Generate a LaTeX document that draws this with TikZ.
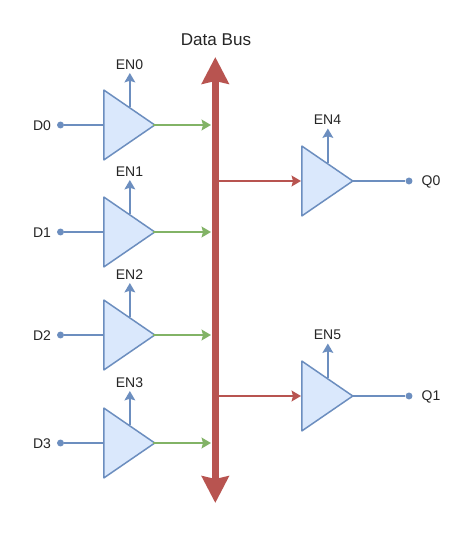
\documentclass[tikz,border=0pt]{standalone}
\usepackage{fontspec}
\setmainfont{Liberation Sans}
\usetikzlibrary{arrows.meta,shapes.geometric}
\definecolor{bluel}{HTML}{6C8EBF}
\definecolor{bluef}{HTML}{DAE8FC}
\definecolor{greenl}{HTML}{82B366}
\definecolor{redl}{HTML}{B85450}
\tikzset{
  buf/.style={isosceles triangle,isosceles triangle stretches,draw=bluel,fill=bluef,line width=1.5pt*0.75,
    minimum width=70*0.75pt,minimum height=51*0.75pt,inner sep=0pt,anchor=lower side,shape border rotate=0,miter limit=2},
  pin/.style={circle,fill=bluel,inner sep=0pt,minimum size=5.2pt},
  lbl/.style={inner sep=0pt,font=\fontsize{10.5pt}{12pt}\selectfont,text=black!85},
  titlelbl/.style={inner sep=0pt,font=\fontsize{12.8pt}{14pt}\selectfont,text=black!85},
  wireb/.style={draw=bluel,line width=1.5pt},
  enarr/.style={draw=bluel,line width=1.5pt,-{Stealth[inset=1.2pt,length=7pt,width=8pt]}},
  grn/.style={draw=greenl,line width=1.5pt,-{Stealth[inset=1pt,length=7pt,width=8pt]},shorten <=-2.5pt},
  redarr/.style={draw=redl,line width=1.5pt,-{Stealth[inset=1pt,length=7pt,width=8pt]}},
  busline/.style={draw=redl,line width=5.3pt,{Stealth[inset=2pt,length=20pt,width=20pt]}-{Stealth[inset=2pt,length=20pt,width=20pt]}},
}
\begin{document}
\begin{tikzpicture}[x=0.75pt,y=-0.75pt]
\useasboundingbox (0,0) rectangle (474,541);
\fill[white] (0,0) rectangle (474,541);
% bus
\coordinate (busT) at (215.3,57);
\coordinate (busB) at (215.3,503);
\draw[busline] (busT) -- (busB);
\node[titlelbl] (title) at (216,39.5) {Data Bus};
% inputs
\foreach \i/\y/\ty in {0/125/65,1/232/172,2/335/275,3/443/383}{
  \node[buf] (b\i) at (103,\y) {};
  \node[pin] (d\i) at (60.5,\y) {};
  \node[lbl] (dl\i) at (42,\y+0.5) {D\i};
  \node[lbl] (en\i) at (129.5,\ty) {EN\i};
  \coordinate (enTip\i) at (129.5,\ty+8);
  \coordinate (busIn\i) at (211,\y);
  \draw[wireb] (d\i) -- (b\i.lower side);
  \draw[enarr] (b\i.left side) -- (b\i.left side |- enTip\i);
  \draw[grn] (b\i.apex) -- (busIn\i);
}
% outputs
\foreach \i/\n/\y/\ty in {0/4/181/120,1/5/396/335}{
  \node[buf] (o\i) at (301,\y) {};
  \node[pin] (q\i) at (409,\y) {};
  \node[lbl] (ql\i) at (431,\y+0.5) {Q\i};
  \node[lbl] (enn\i) at (327.5,\ty) {EN\n};
  \coordinate (ennTip\i) at (327.5,\ty+8.5);
  \coordinate (busOut\i) at (218,\y);
  \draw[wireb,shorten <=-2.5pt] (o\i.apex) -- (q\i);
  \draw[enarr] (o\i.left side) -- (o\i.left side |- ennTip\i);
  \draw[redarr] (busOut\i) -- (o\i.lower side);
}
\end{tikzpicture}
\end{document}
